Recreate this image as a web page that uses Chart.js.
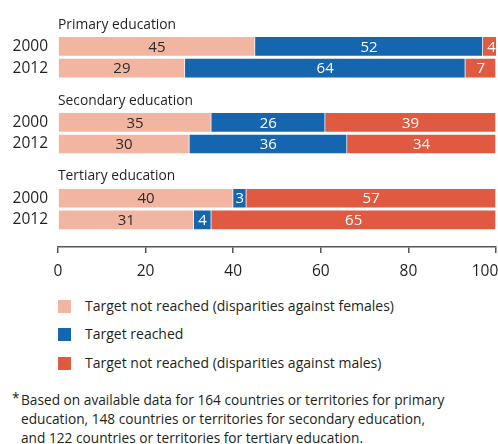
<!DOCTYPE html>
<html>
<head>
<meta charset="utf-8">
<script src="https://cdn.jsdelivr.net/npm/chart.js@4.4.0/dist/chart.umd.min.js"></script>
<style>
    body { margin: 0; background: #fff; }
    #wrap { position: relative; width: 498px; height: 444px; overflow: hidden; font-family: "Open Sans", sans-serif; color: #231f20; }
    #newChart { position: absolute; left: 0; top: 0; }
    .legend-row { position: absolute; left: 58px; height: 14px; font-size: 14px; line-height: 14px; }
    .legend-row span.box { position: absolute; left: 0; top: 0; width: 13px; height: 13px; }
    .legend-row span.txt { position: absolute; left: 27px; top: -1px; white-space: nowrap; }
    #note { position: absolute; left: 21px; top: 390px; font-size: 13.7px; line-height: 19px; white-space: nowrap; }
    #note .star { position: absolute; left: -9px; top: -2px; }
</style>
</head>
<body>
<div id="wrap">
    <canvas id="newChart" width="498" height="285"></canvas>
    <div class="legend-row" style="top:300px"><span class="box" style="background:#F2B5A1"></span><span class="txt">Target not reached (disparities against females)</span></div>
    <div class="legend-row" style="top:328px"><span class="box" style="background:#1565AF"></span><span class="txt">Target reached</span></div>
    <div class="legend-row" style="top:357px"><span class="box" style="background:#E05A42"></span><span class="txt">Target not reached (disparities against males)</span></div>
    <div id="note"><span class="star">*</span>Based on available data for 164 countries or territories for primary<br>education, 148 countries or territories for secondary education,<br>and 122 countries or territories for tertiary education.</div>
</div>
<script>
let ctx = document.getElementById("newChart");

// data
const groups = ["Primary education", "Secondary education", "Tertiary education"];
const years = ["2000", "2012"];
const femalesNotReached = [45, 29, 35, 30, 40, 31];
const targetReached = [52, 64, 26, 36, 3, 4];
const malesNotReached = [4, 7, 39, 34, 57, 65];
const xTicks = [0, 20, 40, 60, 80, 100];

const colors = ["#F2B5A1", "#1565AF", "#E05A42"];
const textColors = ["#2b2b2b", "#ffffff", "#ffffff"];

// each group takes 7 rows: title row, blank, 2000, blank, 2012, blank, blank
const ROWS = 7;
let rowLabels = [];
let titleRows = [];
let yearRows = [];
groups.forEach((g, gi) => {
    for (let r = 0; r < ROWS; r++) rowLabels.push("");
    titleRows.push(gi * ROWS);
    years.forEach((y, yi) => {
        const row = gi * ROWS + 2 + yi * 2;
        rowLabels[row] = y;
        yearRows.push(row);
    });
});

function spread(values) {
    let out = rowLabels.map(() => null);
    values.forEach((v, i) => (out[yearRows[i]] = v));
    return out;
}

const seriesValues = [femalesNotReached, targetReached, malesNotReached];
const seriesNames = [
    "Target not reached (disparities against females)",
    "Target reached",
    "Target not reached (disparities against males)",
];

// group titles above each pair of bars
const groupTitles = {
    id: "groupTitles",
    afterDraw(chart) {
        const c = chart.ctx;
        const y = chart.scales.y;
        c.save();
        c.font = "13.8px 'Open Sans'";
        c.fillStyle = "#231f20";
        c.textAlign = "left";
        c.textBaseline = "middle";
        groups.forEach((g, gi) => {
            c.fillText(g, chart.chartArea.left, y.getPixelForValue(titleRows[gi]));
        });
        c.restore();
    },
};

// the last x label ("100") sits a bit to the left of its tick, against the edge
const lastTickLabel = {
    id: "lastTickLabel",
    beforeDraw(chart) {
        const items = chart.scales.x.getLabelItems(chart.chartArea);
        const last = items[items.length - 1];
        if (last) last.options.translation[0] -= 11;
    },
};

// value labels in the middle of each segment
const barValues = {
    id: "barValues",
    afterDatasetsDraw(chart) {
        const c = chart.ctx;
        c.save();
        c.font = "15px 'Open Sans'";
        c.textAlign = "center";
        c.textBaseline = "middle";
        chart.data.datasets.forEach((ds, di) => {
            const meta = chart.getDatasetMeta(di);
            meta.data.forEach((el, i) => {
                const v = ds.data[i];
                if (v === null) return;
                const p = el.getCenterPoint();
                c.fillStyle = textColors[di];
                c.fillText(v, p.x, p.y + 1);
            });
        });
        c.restore();
    },
};

const displayChart = new Chart(ctx, {
    type: "bar",
    data: {
        labels: rowLabels,
        datasets: seriesValues.map((vals, i) => ({
            label: seriesNames[i],
            data: spread(vals),
            backgroundColor: colors[i],
            borderColor: "rgba(255, 255, 255, 0.45)",
            borderWidth: 1,
            barThickness: 20,
        })),
    },
    options: {
        indexAxis: "y",
        responsive: false,
        animation: false,
        layout: {
            padding: { left: 0, right: 2, top: 18, bottom: 0 },
        },
        scales: {
            x: {
                stacked: true,
                min: 0,
                max: 100,
                afterBuildTicks: (scale) => {
                    scale.ticks = xTicks.map((v) => ({ value: v }));
                },
                afterFit: (scale) => {
                    scale.height = 38;
                    scale.paddingLeft = 0;
                    scale.paddingRight = 0;
                },
                grid: {
                    drawOnChartArea: false,
                    drawTicks: true,
                    tickLength: 6,
                    color: "#555555",
                    lineWidth: 1.5,
                },
                border: { display: true, color: "#555555", width: 1.5 },
                ticks: {
                    padding: 9,
                    color: "#231f20",
                    font: { family: "'Open Sans'", size: 15.5 },
                    maxRotation: 0,
                },
            },
            y: {
                stacked: true,
                afterFit: (scale) => {
                    scale.width = 58;
                },
                grid: { display: false, drawTicks: false },
                border: { display: false },
                ticks: {
                    autoSkip: false,
                    padding: 10,
                    color: "#231f20",
                    font: { family: "'Open Sans'", size: 15.5 },
                },
            },
        },
        plugins: {
            legend: { display: false },
            tooltip: { enabled: false },
        },
    },
    plugins: [groupTitles, barValues, lastTickLabel],
});
</script>
</body>
</html>
